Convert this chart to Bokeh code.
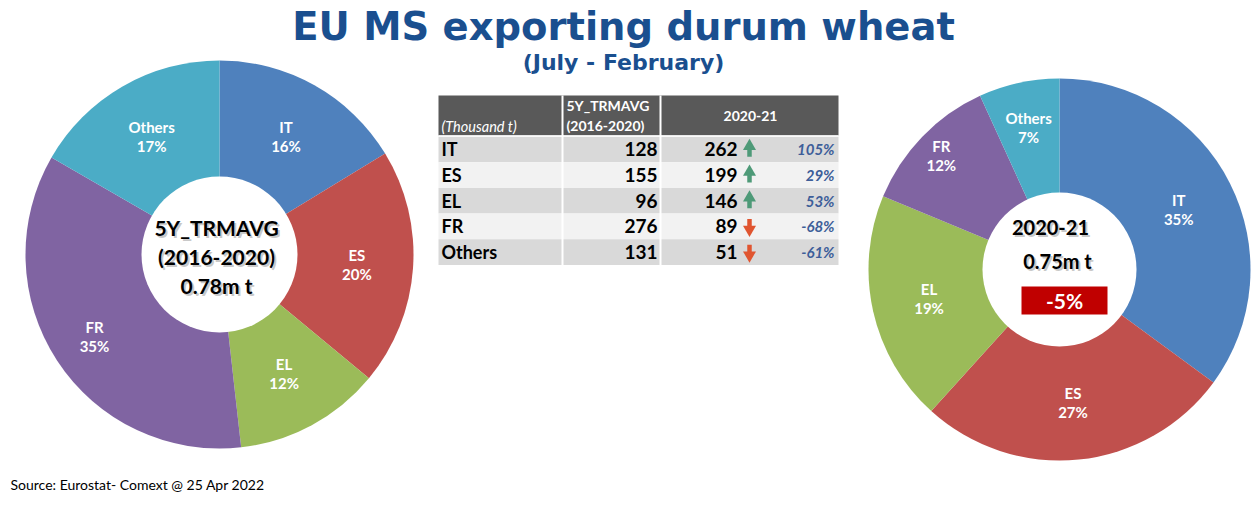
import numpy as np
from bokeh.plotting import figure
from bokeh.models import Range1d, ColumnDataSource
from bokeh.core.properties import value
from bokeh.embed import file_html
from bokeh.resources import INLINE

# ---------------- data ----------------
countries = ["IT", "ES", "EL", "FR", "Others"]
avg_5y = [128, 155, 96, 276, 131]          # 5Y_TRMAVG (2016-2020), thousand t
val_2021 = [262, 199, 146, 89, 51]         # 2020-21, thousand t
change_pct = ["105%", "29%", "53%", "-68%", "-61%"]
left_pct_labels = ["16%", "20%", "12%", "35%", "17%"]
right_pct_labels = ["35%", "27%", "19%", "12%", "7%"]
slice_colors = ["#4f81bd", "#c0504d", "#9bbb59", "#8064a2", "#4bacc6"]
left_center_lines = ["5Y_TRMAVG", "(2016-2020)", "0.78m t"]
right_center_lines = ["2020-21", "0.75m t"]
total_change = "-5%"
title = "EU MS exporting durum wheat"
subtitle = "(July - February)"
source_note = "Source: Eurostat- Comext @ 25 Apr 2022"
header_first = "(Thousand t)"
header_avg = ["5Y_TRMAVG", "(2016-2020)"]
header_cur = "2020-21"

# ---------------- layout ----------------
W, H = 1259, 505
LBL = "Lato"
TITLE_FONT = "DejaVu Sans"
BLUE = "#1a4f8f"


def Y(py):
    return H - py


p = figure(width=W, height=H, x_range=Range1d(0, W), y_range=Range1d(0, H),
           output_backend="svg", toolbar_location=None, min_border=0)
p.axis.visible = False
p.grid.visible = False
p.outline_line_color = None
p.background_fill_color = "white"
p.border_fill_color = "white"


def txt(x, y, s, size, color="black", style="bold", align="center", font=LBL, shadow=False):
    if shadow:
        p.text(x=[x], y=[Y(y)], text=[s], text_font=value(font), text_font_size=f"{size}px",
               text_font_style=style, text_color="#9a9a9a", text_alpha=0.55,
               text_align=align, text_baseline="middle", x_offset=2, y_offset=2)
    p.text(x=[x], y=[Y(y)], text=[s], text_font=value(font), text_font_size=f"{size}px",
           text_font_style=style, text_color=color, text_align=align, text_baseline="middle")


def pie(cx, cy, r, rin, vals, pct_labels, label_rf):
    v = np.array(vals, float)
    frac = v / v.sum()
    cum = np.concatenate([[0.0], np.cumsum(frac)])
    start = np.pi / 2 - 2 * np.pi * cum[:-1]
    end = np.pi / 2 - 2 * np.pi * cum[1:]
    src = ColumnDataSource(dict(x=[cx] * len(v), y=[Y(cy)] * len(v), s=start, e=end, c=slice_colors))
    p.wedge(x="x", y="y", radius=r, start_angle="s", end_angle="e", direction="clock",
            fill_color="c", line_color=None, source=src)
    p.circle(x=[cx], y=[Y(cy)], radius=rin, fill_color="white", line_color=None)
    mid = np.pi / 2 - 2 * np.pi * (cum[:-1] + cum[1:]) / 2
    for i, name in enumerate(countries):
        rl = r * label_rf[i]
        lx = cx + rl * np.cos(mid[i])
        ly = cy - rl * np.sin(mid[i])
        txt(lx, ly - 9.5, name, 15, color="white")
        txt(lx, ly + 9.5, pct_labels[i], 15, color="white")


# ---------------- title ----------------
txt(623, 26, title, 38.5, color=BLUE, font=TITLE_FONT)
txt(623, 62, subtitle, 22, color=BLUE, font=TITLE_FONT)

# ---------------- left pie ----------------
pie(219, 254, 194, 78, avg_5y, left_pct_labels, [0.7, 0.71, 0.7, 0.77, 0.7])
for i, s in enumerate(left_center_lines):
    txt(216, 227 + i * 29, s, 21, shadow=True)

# ---------------- right pie ----------------
pie(1059, 269, 191, 77, val_2021, right_pct_labels, [0.7, 0.7, 0.7, 0.86, 0.76])
txt(1050, 227, right_center_lines[0], 20, shadow=True)
txt(1057, 260, right_center_lines[1], 20, shadow=True)
p.quad(left=[1021], right=[1107], bottom=[Y(314)], top=[Y(286)], fill_color="#c00000", line_color=None)
txt(1064, 300, total_change, 21, color="white")

# ---------------- table ----------------
col_edges = [438, 562, 660, 838]
head_top, head_bot = 95, 135
row_h = 25.7
rows_top = 136
p.quad(left=[col_edges[0]], right=[col_edges[-1]], top=[Y(head_top)], bottom=[Y(head_bot)],
       fill_color="#595959", line_color=None)
n = len(countries)
row_fill = ["#d9d9d9" if i % 2 == 0 else "#f2f2f2" for i in range(n)]
p.quad(left=[col_edges[0]] * n, right=[col_edges[-1]] * n,
       top=[Y(rows_top + i * row_h) for i in range(n)],
       bottom=[Y(rows_top + (i + 1) * row_h) for i in range(n)],
       fill_color=row_fill, line_color=None)
for xe in col_edges[1:-1]:
    p.segment(x0=[xe], x1=[xe], y0=[Y(head_top)], y1=[Y(rows_top + n * row_h)],
              line_color="white", line_width=2)
p.segment(x0=[col_edges[0]], x1=[col_edges[-1]], y0=[Y(135.5)], y1=[Y(135.5)], line_color="white", line_width=1.5)

txt(441, 126, header_first, 14.5, color="white", style="italic", align="left")
txt(566, 105, header_avg[0], 14, color="white", align="left")
txt(566, 125, header_avg[1], 14, color="white", align="left")
txt(750, 115, header_cur, 14, color="white")

up_x, up_y, dn_x, dn_y = [], [], [], []
for i, name in enumerate(countries):
    yc = rows_top + (i + 0.5) * row_h
    txt(441, yc, name, 18, align="left")
    txt(657, yc, str(avg_5y[i]), 19, align="right")
    txt(737, yc, str(val_2021[i]), 19, align="right")
    txt(834, yc, change_pct[i], 15, color="#3d5e99", style="bold italic", align="right")
    if val_2021[i] >= avg_5y[i]:
        up_x.append(749); up_y.append(yc)
    else:
        dn_x.append(749); dn_y.append(yc)

GREEN, RED = "#4e9a78", "#e05530"
if up_x:
    p.rect(x=up_x, y=[Y(v + 3) for v in up_y], width=4.5, height=9, fill_color=GREEN, line_color=None)
    p.scatter(x=up_x, y=[Y(v - 3) for v in up_y], marker="triangle", size=13, fill_color=GREEN, line_color=None)
if dn_x:
    p.rect(x=dn_x, y=[Y(v - 3) for v in dn_y], width=4.5, height=9, fill_color=RED, line_color=None)
    p.scatter(x=dn_x, y=[Y(v + 3) for v in dn_y], marker="inverted_triangle", size=13, fill_color=RED, line_color=None)

# ---------------- source ----------------
txt(10, 484, source_note, 14, style="normal", align="left")

open("out.html", "w").write(file_html(p, INLINE))
